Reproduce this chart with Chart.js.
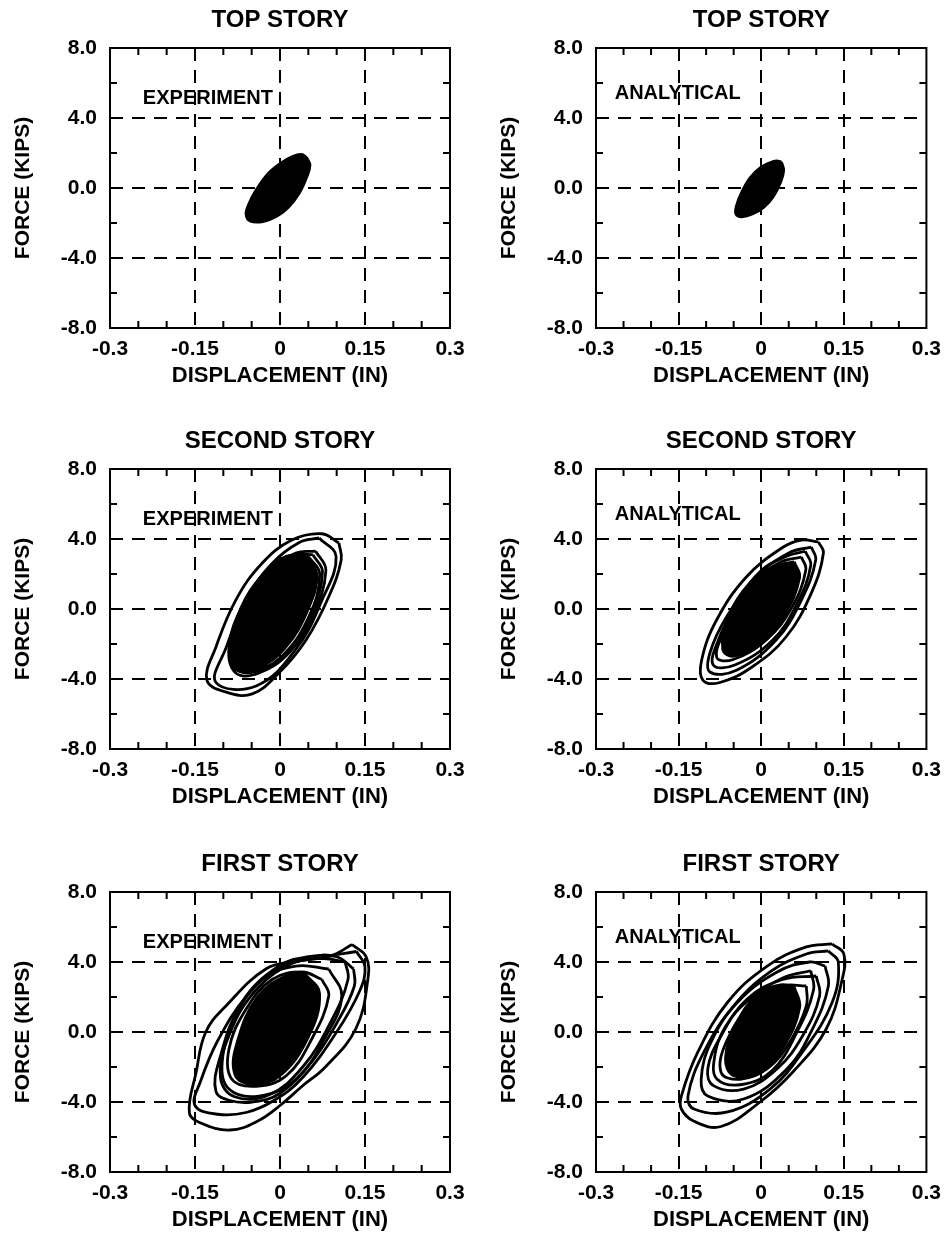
<!DOCTYPE html>
<html><head><meta charset="utf-8">
<script src="https://cdn.jsdelivr.net/npm/chart.js@4/dist/chart.umd.min.js"></script>
<style>
html,body{margin:0;padding:0;background:#fff;overflow:hidden;}
#wrap{position:relative;width:950px;height:1248px;overflow:hidden;background:#fff;}
canvas{position:absolute;}
</style></head><body><div id="wrap"></div>
<script>
// ---- axis ticks ----
const xTicks=[-0.3,-0.15,0,0.15,0.3];
const xTickLabels=['-0.3','-0.15','0','0.15','0.3'];
const yTicks=[-8,-4,0,4,8];
const yTickLabels=['-8.0','-4.0','0.0','4.0','8.0'];
const xMinorTicks=[-0.25,-0.2,-0.1,-0.05,0.05,0.1,0.2,0.25];
const yMinorTicks=[-6,-2,2,6];
const storyTitles=['TOP STORY','SECOND STORY','FIRST STORY'];
const sourceLabels=['EXPERIMENT','ANALYTICAL'];
const xAxisTitle='DISPLACEMENT (IN)';
const yAxisTitle='FORCE (KIPS)';

// ---- hysteresis loops (displacement in, force kips) ----
const topExpCore=[[0.047,1.75],[0.053,1.3],[0.047,0.6],[0.034,-0.3],[0.015,-1.1],[-0.005,-1.6],[-0.03,-1.92],[-0.052,-1.9],[-0.06,-1.5],[-0.055,-0.9],[-0.042,-0.1],[-0.022,0.8],[0.0,1.4],[0.022,1.8],[0.038,1.92]];
const topAnaCore=[[0.037,1.48],[0.041,1.0],[0.035,0.3],[0.022,-0.5],[0.005,-1.1],[-0.015,-1.48],[-0.035,-1.65],[-0.046,-1.5],[-0.045,-1.0],[-0.035,-0.2],[-0.02,0.6],[-0.002,1.15],[0.016,1.45],[0.028,1.55]];

const secExpCore=[[0.045,3.0],[0.065,2.0],[0.05,0.0],[0.01,-2.2],[-0.04,-3.4],[-0.08,-3.4],[-0.085,-2.0],[-0.07,0.0],[-0.03,2.0],[0.01,3.0]];
const secExpRingA=[[0.074,4.3],[0.104,3.77],[0.108,2.8],[0.086,0.7],[0.046,-1.77],[-0.002,-3.66],[-0.049,-4.85],[-0.095,-4.75],[-0.129,-4.06],[-0.113,-2.17],[-0.078,0.51],[-0.032,2.6],[0.021,3.94]];
const secExpRingB=[[0.069,4.06],[0.099,3.0],[0.074,0.5],[0.028,-2.3],[-0.042,-4.4],[-0.113,-4.2],[-0.095,-2.2],[-0.06,0.5],[-0.014,2.6],[0.034,3.8]];
const secExpRingC=[[0.063,3.3],[0.081,2.2],[0.057,-0.46],[0.016,-2.5],[-0.037,-3.66],[-0.078,-3.66],[-0.09,-2.17],[-0.067,0.1],[-0.019,2.2],[0.028,3.2]];
const secExpRingD=[[0.05,3.0],[0.07,2.0],[0.05,-0.5],[0.0,-2.8],[-0.05,-3.5],[-0.085,-3.0],[-0.08,-1.0],[-0.04,1.5],[0.01,2.9]];
const secExpRingE=[[0.058,3.1],[0.075,2.1],[0.053,-0.5],[0.01,-2.6],[-0.045,-3.6],[-0.082,-3.3],[-0.085,-1.6],[-0.055,0.8],[-0.01,2.6],[0.03,3.1]];

const secAnaCore=[[0.06,2.7],[0.07,1.8],[0.04,-0.5],[0.0,-2.0],[-0.05,-2.7],[-0.07,-2.3],[-0.06,-0.5],[-0.02,1.5],[0.03,2.5]];
const secAnaRingA=[[0.104,3.83],[0.113,3.2],[0.091,0.91],[0.045,-1.6],[-0.016,-3.3],[-0.075,-4.2],[-0.106,-4.06],[-0.108,-2.9],[-0.081,-0.63],[-0.027,1.83],[0.038,3.5],[0.073,3.94]];
const secAnaRingB=[[0.091,3.54],[0.099,2.8],[0.073,0.51],[0.027,-1.77],[-0.045,-3.5],[-0.093,-3.6],[-0.093,-2.5],[-0.063,-0.46],[-0.009,1.83],[0.05,3.2]];
const secAnaRingC=[[0.073,2.97],[0.081,2.23],[0.056,0.11],[0.009,-1.77],[-0.052,-2.9],[-0.081,-2.74],[-0.063,-1.03],[-0.022,1.26],[0.032,2.63]];
const secAnaRingD=[[0.08,3.3],[0.09,2.5],[0.065,0.3],[0.02,-1.8],[-0.048,-3.2],[-0.087,-3.2],[-0.078,-1.8],[-0.045,0.3],[0.0,2.2],[0.045,3.0]];

const firExpCore=[[0.045,3.3],[0.07,2.2],[0.05,-0.3],[0.0,-2.5],[-0.05,-3.0],[-0.08,-2.4],[-0.075,-0.5],[-0.04,2.0],[0.01,3.2]];
const firExpRingA=[[0.127,5.0],[0.152,4.3],[0.155,3.0],[0.134,0.2],[0.08,-2.0],[0.039,-3.1],[0.0,-4.2],[-0.04,-5.1],[-0.088,-5.6],[-0.14,-5.2],[-0.16,-4.6],[-0.148,-2.3],[-0.131,0.0],[-0.095,1.5],[-0.025,3.6],[0.03,4.05],[0.09,4.35]];
const firExpRingB=[[0.135,4.6],[0.15,3.7],[0.14,2.3],[0.1,0.0],[0.04,-2.6],[-0.01,-3.9],[-0.06,-4.6],[-0.11,-4.7],[-0.15,-4.2],[-0.14,-2.8],[-0.11,-0.5],[-0.06,2.0],[0.0,3.7],[0.07,4.25]];
const firExpRingC=[[0.1,4.3],[0.13,3.6],[0.131,2.6],[0.1,0.5],[0.056,-1.7],[0.0,-3.5],[-0.049,-4.0],[-0.09,-3.9],[-0.113,-3.4],[-0.108,-1.7],[-0.067,1.7],[-0.002,3.77],[0.05,4.3]];
const firExpRingD=[[0.086,3.6],[0.109,2.06],[0.081,-0.23],[0.028,-2.7],[-0.037,-3.66],[-0.09,-3.26],[-0.102,-1.7],[-0.078,0.91],[-0.032,3.0],[0.028,3.77]];
const firExpRingE=[[0.074,3.0],[0.086,2.06],[0.056,-0.4],[0.011,-2.5],[-0.042,-3.1],[-0.085,-2.7],[-0.09,-0.97],[-0.06,1.3],[-0.014,3.0],[0.039,3.43]];
const firExpRingF=[[0.115,4.0],[0.12,3.0],[0.09,0.6],[0.04,-2.0],[-0.02,-3.6],[-0.08,-3.7],[-0.105,-2.6],[-0.09,-0.2],[-0.045,2.3],[0.02,3.9],[0.075,4.2]];

const firAnaCore=[[0.06,2.6],[0.07,1.4],[0.04,-0.9],[0.0,-2.3],[-0.05,-2.5],[-0.065,-1.5],[-0.045,0.5],[-0.005,2.2],[0.035,2.7]];
const firAnaRingA=[[0.129,5.03],[0.15,4.46],[0.147,3.0],[0.118,0.17],[0.057,-2.3],[-0.002,-4.0],[-0.073,-5.4],[-0.122,-5.1],[-0.145,-4.4],[-0.145,-3.66],[-0.115,-1.14],[-0.061,1.7],[0.011,3.77],[0.082,4.86]];
const firAnaRingB=[[0.122,4.63],[0.14,4.0],[0.129,1.7],[0.075,-1.14],[0.016,-3.26],[-0.061,-4.57],[-0.122,-4.4],[-0.133,-3.66],[-0.104,-1.14],[-0.05,1.49],[0.016,3.43],[0.082,4.46]];
const firAnaRingC=[[0.116,3.77],[0.122,2.63],[0.093,0.17],[0.047,-2.1],[-0.032,-3.83],[-0.097,-3.66],[-0.109,-2.7],[-0.091,-0.57],[-0.043,1.7],[0.029,3.43],[0.088,4.0]];
const firAnaRingD=[[0.1,3.2],[0.106,2.06],[0.075,-0.23],[0.029,-2.1],[-0.032,-3.26],[-0.086,-3.08],[-0.097,-2.1],[-0.073,-0.23],[-0.025,1.9],[0.039,3.0]];
const firAnaRingE=[[0.082,2.63],[0.082,1.49],[0.052,-0.57],[0.011,-2.1],[-0.038,-2.7],[-0.073,-2.3],[-0.061,-0.4],[-0.014,1.7],[0.039,2.63]];
const firAnaRingF=[[0.09,3.5],[0.095,2.4],[0.065,0.0],[0.02,-2.2],[-0.035,-3.0],[-0.08,-2.7],[-0.085,-1.5],[-0.065,0.3],[-0.02,1.9],[0.04,3.1]];

const panels=[
  {row:0,col:0,title:storyTitles[0],tag:sourceLabels[0],core:topExpCore,rings:[]},
  {row:0,col:1,title:storyTitles[0],tag:sourceLabels[1],core:topAnaCore,rings:[]},
  {row:1,col:0,title:storyTitles[1],tag:sourceLabels[0],core:secExpCore,rings:[secExpRingA,secExpRingB,secExpRingC,secExpRingD,secExpRingE]},
  {row:1,col:1,title:storyTitles[1],tag:sourceLabels[1],core:secAnaCore,rings:[secAnaRingA,secAnaRingB,secAnaRingC,secAnaRingD]},
  {row:2,col:0,title:storyTitles[2],tag:sourceLabels[0],core:firExpCore,rings:[firExpRingA,firExpRingB,firExpRingC,firExpRingD,firExpRingE,firExpRingF]},
  {row:2,col:1,title:storyTitles[2],tag:sourceLabels[1],core:firAnaCore,rings:[firAnaRingA,firAnaRingB,firAnaRingC,firAnaRingD,firAnaRingE,firAnaRingF]}
];

const FONT='"Liberation Sans", Arial, Helvetica, sans-serif';
const rowTops=[0,421,844];
const colLefts=[0,475];
const CW=475, CH=406;

// start each closed loop at its upper-right tip so the closing joint sits where the curve is sharpest
function closeLoop(arr){
  let k=0,best=-1e9;
  arr.forEach((p,i)=>{const s=p[0]/0.3+p[1]/8; if(s>best){best=s;k=i;}});
  const rot=arr.slice(k).concat(arr.slice(0,k));
  const pts=rot.map(p=>({x:p[0],y:p[1]}));
  pts.push({x:rot[0][0],y:rot[0][1]});
  return pts;
}

const framePlugin={
  id:'frame',
  afterDatasetsDraw(chart,args,opts){
    const {ctx,chartArea:a,scales:{x,y}}=chart;
    ctx.save();
    ctx.strokeStyle='#000';
    ctx.lineWidth=2;
    ctx.setLineDash([]);
    ctx.strokeRect(a.left,a.top,a.right-a.left,a.bottom-a.top);
    const L=7;
    ctx.beginPath();
    xMinorTicks.forEach(v=>{
      const px=x.getPixelForValue(v);
      ctx.moveTo(px,a.top);ctx.lineTo(px,a.top+L);
      ctx.moveTo(px,a.bottom);ctx.lineTo(px,a.bottom-L);
    });
    yMinorTicks.forEach(v=>{
      const py=y.getPixelForValue(v);
      ctx.moveTo(a.left,py);ctx.lineTo(a.left+L,py);
      ctx.moveTo(a.right,py);ctx.lineTo(a.right-L,py);
    });
    ctx.stroke();
    ctx.fillStyle='#000';
    ctx.font='bold 20px '+FONT;
    ctx.textAlign='left';
    ctx.textBaseline='middle';
    ctx.fillText(opts.text,x.getPixelForValue(opts.at[0]),y.getPixelForValue(opts.at[1]));
    ctx.restore();
  }
};

panels.forEach(p=>{
  const cv=document.createElement('canvas');
  cv.width=CW;cv.height=CH;
  cv.style.left=colLefts[p.col]+'px';
  cv.style.top=rowTops[p.row]+'px';
  cv.style.width=CW+'px';cv.style.height=CH+'px';
  document.getElementById('wrap').appendChild(cv);

  const datasets=[{
    data:closeLoop(p.core),showLine:true,fill:'shape',backgroundColor:'#000',
    borderColor:'#000',borderWidth:2.6,pointRadius:0,tension:0.4
  }];
  p.rings.forEach(r=>datasets.push({
    data:closeLoop(r),showLine:true,fill:false,borderColor:'#000',
    borderWidth:2.8,pointRadius:0,tension:0.4
  }));

  const isRight=p.col===1;
  new Chart(cv,{
    type:'scatter',
    data:{datasets},
    plugins:[framePlugin],
    options:{
      animation:false,responsive:false,devicePixelRatio:1,
      layout:{padding:{left:isRight?11:0,right:isRight?18:25,top:0,bottom:17}},
      plugins:{
        legend:{display:false},tooltip:{enabled:false},
        title:{display:true,text:p.title,fullSize:false,color:'#000',
          font:{family:FONT,size:24,weight:'bold',lineHeight:1.2},
          padding:{top:5.6,bottom:13.6}},
        frame:{text:p.tag,at:isRight?[-0.266,5.4]:[-0.242,5.1]}
      },
      scales:{
        x:{type:'linear',min:-0.3,max:0.3,
          afterBuildTicks:s=>{s.ticks=xTicks.map(v=>({value:v}));},
          afterFit:s=>{s.height=61;},
          ticks:{autoSkip:false,maxRotation:0,color:'#000',padding:9,
            font:{family:FONT,size:21,weight:'bold'},
            callback:(v)=>xTickLabels[xTicks.findIndex(t=>Math.abs(t-v)<1e-6)]},
          grid:{drawTicks:false,lineWidth:2,
            color:c=>(c.tick&&Math.abs(Math.abs(c.tick.value)-0.3)<1e-6)?'rgba(0,0,0,0)':'#000'},
          border:{display:false,dash:[13,9]},
          title:{display:true,text:xAxisTitle,color:'#000',
            font:{family:FONT,size:22,weight:'bold',lineHeight:1.2},padding:{top:0,bottom:0}}
        },
        y:{type:'linear',min:-8,max:8,
          afterBuildTicks:s=>{s.ticks=yTicks.map(v=>({value:v}));},
          afterFit:s=>{s.width=110;},
          ticks:{autoSkip:false,color:'#000',padding:13,
            font:{family:FONT,size:21,weight:'bold'},
            callback:(v)=>yTickLabels[yTicks.findIndex(t=>Math.abs(t-v)<1e-6)]},
          grid:{drawTicks:false,lineWidth:2,
            color:c=>(c.tick&&Math.abs(Math.abs(c.tick.value)-8)<1e-6)?'rgba(0,0,0,0)':'#000'},
          border:{display:false,dash:[13,9]},
          title:{display:true,text:yAxisTitle,color:'#000',
            font:{family:FONT,size:21,weight:'bold',lineHeight:1.2},padding:{top:10.4,bottom:0}}
        }
      }
    }
  });
});
</script></body></html>
